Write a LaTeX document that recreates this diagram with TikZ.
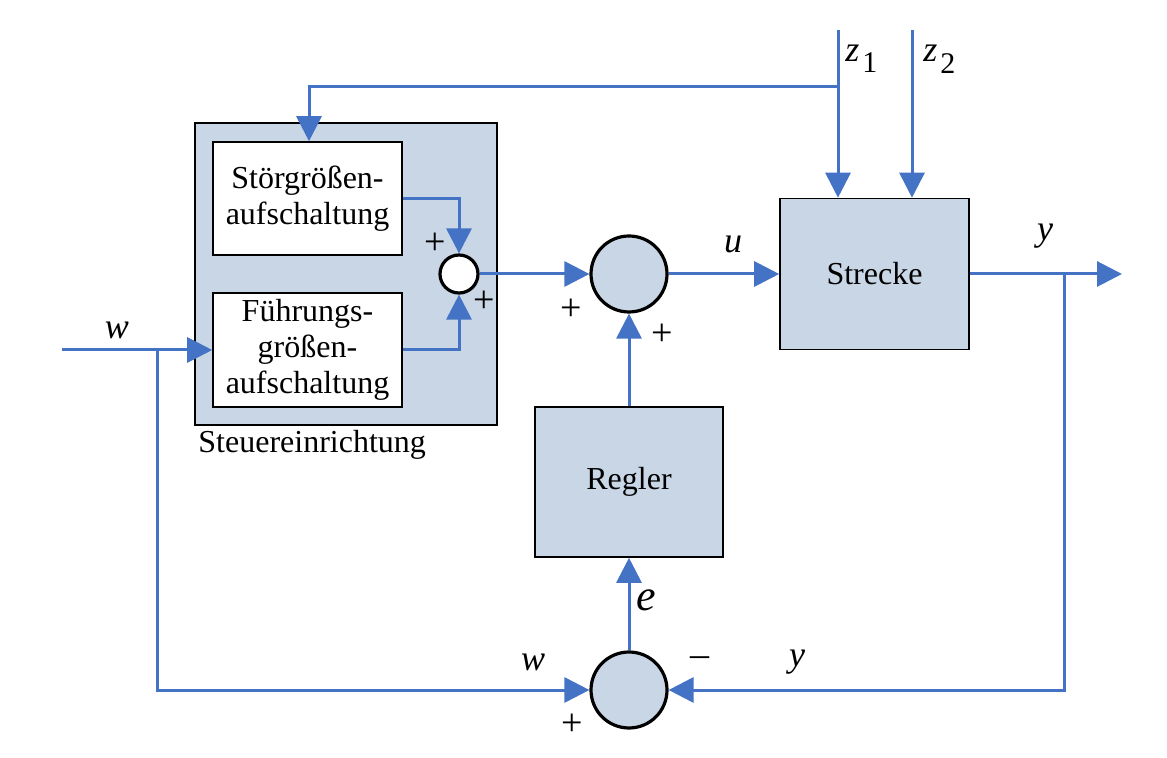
\documentclass[tikz,border=0pt]{standalone}
\usepackage{fontspec}
\setmainfont{Liberation Serif}
\usetikzlibrary{arrows.meta}
\definecolor{boxfill}{RGB}{200,214,230}
\definecolor{sigblue}{RGB}{68,114,196}
\begin{document}
\begin{tikzpicture}[x=0.5pt,y=-0.5pt,
  blk/.style={draw=black,line width=0.8pt,fill=boxfill,inner sep=0pt,align=center,font=\fontsize{16}{18}\selectfont},
  wblk/.style={blk,fill=white},
  sumc/.style={circle,draw=black,line width=1.6pt,fill=boxfill,inner sep=0pt,minimum size=38pt},
  sig/.style={draw=sigblue,line width=1.5pt},
  sigarr/.style={sig,-{Triangle[length=12.5pt,width=12.5pt]}},
  lab/.style={font=\fontsize{18}{18}\selectfont\itshape,inner sep=0pt},
  pm/.style={font=\fontsize{19}{19}\selectfont,inner sep=0pt}]
\useasboundingbox (0,0) rectangle (1167,758);
% blocks
\node[blk,minimum width=151pt,minimum height=151pt] (SE) at (346,274) {};
\node[wblk,minimum width=94.5pt,minimum height=56.5pt] (SG) at (307.5,198.5) {Störgrößen-\\aufschaltung};
\node[wblk,minimum width=94.5pt,minimum height=57pt] (FG) at (307.5,350) {Führungs-\\größen-\\aufschaltung};
\node[circle,draw=black,line width=1.6pt,fill=white,inner sep=0pt,minimum size=19pt] (c0) at (459,274) {};
\node[sumc] (s1) at (629,274) {};
\node[blk,minimum width=94.5pt,minimum height=75.5pt] (ST) at (874.5,274) {Strecke};
\node[blk,minimum width=94pt,minimum height=75pt] (RG) at (629,482) {Regler};
\node[sumc] (s2) at (629,690) {};
\node[anchor=base west,inner sep=0pt,font=\fontsize{16}{18}\selectfont] (SEl) at (198,453) {Steuereinrichtung};
% coordinates
\coordinate (win) at (62,350);
\coordinate (wbr) at (157,350);
\coordinate (yout) at (1122,274);
\coordinate (ybr) at (1064,274);
\coordinate (z1s) at (838,30);
\coordinate (z2s) at (912,30);
\coordinate (z1b) at (838,87);
\coordinate (z1c) at (309,87);
% connectors
\draw[sigarr] (SG.east) -| (c0.north);
\draw[sigarr] (FG.east) -| (c0.south);
\draw[sigarr] (c0.east) -- (s1.west);
\draw[sigarr] (s1.east) -- (ST.west);
\draw[sigarr] (RG.north) -- (s1.south);
\draw[sigarr] (ST.east) -- (yout);
\draw[sigarr] (ybr) |- (s2.east);
\draw[sigarr] (s2.north) -- (RG.south);
\draw[sigarr] (win) -- (FG.west);
\draw[sigarr] (wbr) |- (s2.west);
\draw[sigarr] (z1s) -- (z1s |- ST.north);
\draw[sigarr] (z2s) -- (z2s |- ST.north);
\draw[sigarr] (z1b) -- (z1c) -- (z1c |- SG.north);
% labels
\node[lab] (lw1) at (117,330) {w};
\node[lab] (lw2) at (533,662) {w};
\node[lab] (lu) at (733,244) {u};
\node[lab] (ly1) at (1045,236) {y};
\node[lab] (ly2) at (797,662) {y};
\node[lab,font=\fontsize{22}{22}\selectfont\itshape] (le) at (646,600) {e};
\node[lab,anchor=base west] (lz1) at (845,62) {z\hspace{1.5pt}\raisebox{-5.5pt}{\upshape\fontsize{15}{15}\selectfont 1}};
\node[lab,anchor=base west] (lz2) at (923,62) {z\hspace{1.5pt}\raisebox{-6pt}{\upshape\fontsize{15}{15}\selectfont 2}};
\node[pm] (p1) at (435,244) {+};
\node[pm] (p2) at (484,302) {+};
\node[pm] (p3) at (571,310) {+};
\node[pm] (p4) at (662,335) {+};
\node[pm] (p5) at (572,725) {+};
\node[pm] (m1) at (700,662) {\textendash};
\end{tikzpicture}
\end{document}
